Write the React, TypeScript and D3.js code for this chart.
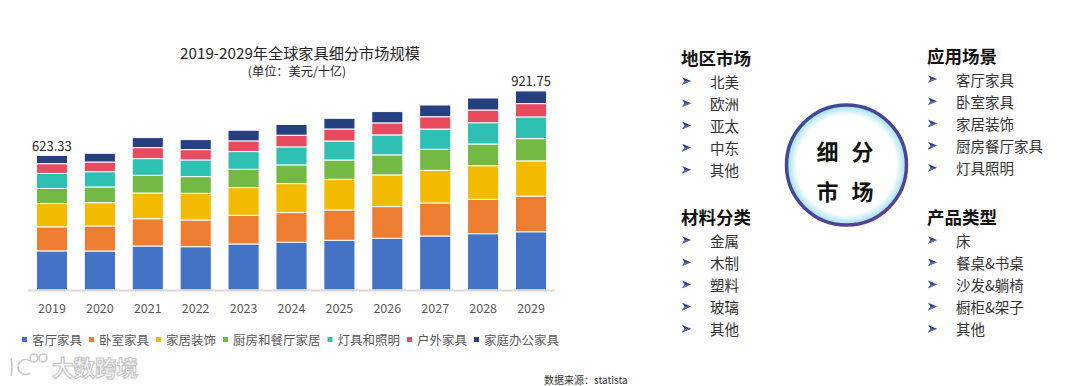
import React from "react";
import * as d3 from "d3";

// 2019-2029 global furniture market by segment (USD bn)
const years = ["2019", "2020", "2021", "2022", "2023", "2024", "2025", "2026", "2027", "2028", "2029"];
const seriesNames = ["客厅家具", "卧室家具", "家居装饰", "厨房和餐厅家居", "灯具和照明", "户外家具", "家庭办公家具"];
const seriesColors = ["#4472C4", "#ED7D31", "#F2BA00", "#74B943", "#2FC0B4", "#E84A60", "#253F80"];

const livingRoom = [181.0, 180.6, 203.7, 200.5, 213.0, 220.9, 230.1, 239.4, 250.0, 260.7, 269.6];
const bedroom = [111.5, 115.8, 126.4, 123.6, 132.9, 137.5, 140.3, 146.8, 152.8, 158.8, 165.1];
const decor = [108.2, 107.9, 119.0, 123.6, 128.3, 134.3, 142.1, 146.8, 151.4, 156.0, 163.2];
const kitchen = [69.6, 72.7, 82.0, 77.3, 84.7, 86.6, 89.4, 92.6, 97.2, 100.5, 103.1];
const lighting = [69.6, 70.8, 77.3, 77.3, 82.0, 83.3, 88.0, 92.6, 94.0, 98.6, 100.4];
const outdoor = [45.0, 44.9, 50.9, 47.7, 49.5, 54.2, 55.6, 55.6, 56.9, 58.8, 61.55];
const homeOffice = [38.43, 40.3, 46.3, 46.3, 49.5, 49.5, 49.5, 52.3, 54.2, 55.6, 58.8];

const labelledYears = ["2019", "2029"];

// right-hand segmentation panel
const regionItems = ["北美", "欧洲", "亚太", "中东", "其他"];
const materialItems = ["金属", "木制", "塑料", "玻璃", "其他"];
const sceneItems = ["客厅家具", "卧室家具", "家居装饰", "厨房餐厅家具", "灯具照明"];
const productItems = ["床", "餐桌&书桌", "沙发&躺椅", "橱柜&架子", "其他"];

const FONT = "'Noto Sans CJK SC', 'Noto Sans', sans-serif";

const allSeries = [livingRoom, bedroom, decor, kitchen, lighting, outdoor, homeOffice];
const table = years.map((year, i) => {
  const row: Record<string, number | string> = { year };
  seriesNames.forEach((name, s) => (row[name] = allSeries[s][i]));
  return row;
});

function Group({ x, y, title, items }: { x: number; y: number; title: string; items: string[] }) {
  return (
    <g>
      <text x={x} y={y} fontSize={17.5} fontWeight="bold" fill="#111" dominantBaseline="central">
        {title}
      </text>
      {items.map((t, i) => {
        const cy = y + 24 + i * 22.2;
        return (
          <g key={i}>
            <path d={`M${x + 1},${cy - 3.8} L${x + 10},${cy} L${x + 1},${cy + 3.8} L${x + 3.6},${cy} Z`} fill="#2b3a8a" />
            <path d={`M${x + 3.6},${cy} L${x + 10},${cy} L${x + 1},${cy + 3.8} Z`} fill="#5a6cb8" />
            <text x={x + 29} y={cy} fontSize={14.5} fill="#333" dominantBaseline="central">
              {t}
            </text>
          </g>
        );
      })}
    </g>
  );
}

export default function App() {
  const baseY = 290;
  const x = d3.scaleBand().domain(years).range([28, 555]).paddingInner(0.35).paddingOuter(0.175);
  const y = d3.scaleLinear().domain([0, 1000]).range([baseY, baseY - 1000 / 4.63]);
  const stacked = d3.stack<any>().keys(seriesNames)(table);
  const totals = years.map((_, i) => d3.sum(allSeries, (s) => s[i]));

  // legend layout: square + name, advanced by the name length
  const legendFont = 12.5;
  const legendX: number[] = [];
  seriesNames.reduce((pos, name) => {
    legendX.push(pos);
    return pos + 5 + 5 + name.length * legendFont + 7;
  }, 22);

  return (
    <svg width={1080} height={386} style={{ position: "absolute", left: 0, top: 0, background: "#fff" }} fontFamily={FONT}>
      <defs>
        <radialGradient id="glow" cx="50%" cy="50%" r="50%">
          <stop offset="0.84" stopColor="#ffffff" />
          <stop offset="1" stopColor="#a3e1ee" />
        </radialGradient>
        <linearGradient id="ring" x1="0" y1="0" x2="1" y2="1">
          <stop offset="0" stopColor="#3a4a9c" />
          <stop offset="1" stopColor="#5b3f95" />
        </linearGradient>
      </defs>
      <rect width={1080} height={386} fill="#fff" />
      {/* title */}
      <text x={300} y={52} textAnchor="middle" fontSize={15.2} fill="#262626" dominantBaseline="central">
        2019-2029年全球家具细分市场规模
      </text>
      <text x={297} y={71} textAnchor="middle" fontSize={12.2} fill="#262626" dominantBaseline="central">
        (单位：美元/十亿)
      </text>

      {/* bars */}
      {stacked.map((layer, s) => (
        <g key={layer.key} fill={seriesColors[s]}>
          {layer.map((d, i) => (
            <rect
              key={i}
              x={x(years[i])}
              y={y(d[1])}
              width={x.bandwidth()}
              height={y(d[0]) - y(d[1])}
              stroke="#ffffff"
              strokeWidth={1}
            />
          ))}
        </g>
      ))}

      {/* totals */}
      {years.map((yr, i) =>
        labelledYears.includes(yr) ? (
          <text key={yr} x={x(yr)! + x.bandwidth() / 2} y={y(totals[i]) - 10} textAnchor="middle" fontSize={13} fill="#262626" dominantBaseline="central">
            {d3.format(".2f")(totals[i])}
          </text>
        ) : null
      )}

      {/* axis */}
      <line x1={28} x2={555} y1={baseY + 0.5} y2={baseY + 0.5} stroke="#d9d9d9" strokeWidth={2} />
      {years.map((yr) => (
        <text key={yr} x={x(yr)! + x.bandwidth() / 2} y={307} textAnchor="middle" fontSize={12.5} fill="#595959" dominantBaseline="central">
          {yr}
        </text>
      ))}

      {/* legend */}
      {seriesNames.map((name, s) => (
        <g key={name}>
          <rect x={legendX[s]} y={337} width={5} height={5} fill={seriesColors[s]} />
          <text x={legendX[s] + 10} y={339.5} fontSize={legendFont} fill="#595959" dominantBaseline="central">
            {name}
          </text>
        </g>
      ))}

      {/* watermark */}
      <g stroke="#c8c8c8" strokeWidth={1.6} fill="none">
        <path d="M11,358 Q13,366 11,376" />
        <path d="M30,361 A7.5,7.5 0 1,0 30,373" />
        <circle cx={34} cy={358} r={4} />
        <circle cx={43} cy={358} r={4} />
      </g>
      <text x={52} y={366} fontSize={21.5} fontWeight="bold" fill="#fff" stroke="#c8c8c8" strokeWidth={1.2} dominantBaseline="central">
        大数跨境
      </text>

      <text x={544} y={379} fontSize={10} fill="#333" dominantBaseline="central">
        数据来源：statista
      </text>

      {/* segmentation panel */}
      <Group x={681} y={57} title="地区市场" items={regionItems} />
      <Group x={681} y={216} title="材料分类" items={materialItems} />
      <Group x={927} y={55} title="应用场景" items={sceneItems} />
      <Group x={927} y={216} title="产品类型" items={productItems} />

      <circle cx={846.5} cy={165} r={59} fill="url(#glow)" />
      <circle cx={846.5} cy={165} r={60} fill="none" stroke="url(#ring)" strokeWidth={3.5} />
      <text x={827.5} y={150} textAnchor="middle" fontSize={22} fontWeight="bold" fill="#111" dominantBaseline="central">细</text>
      <text x={862.5} y={150} textAnchor="middle" fontSize={22} fontWeight="bold" fill="#111" dominantBaseline="central">分</text>
      <text x={827.5} y={190} textAnchor="middle" fontSize={22} fontWeight="bold" fill="#111" dominantBaseline="central">市</text>
      <text x={862.5} y={190} textAnchor="middle" fontSize={22} fontWeight="bold" fill="#111" dominantBaseline="central">场</text>
    </svg>
  );
}
